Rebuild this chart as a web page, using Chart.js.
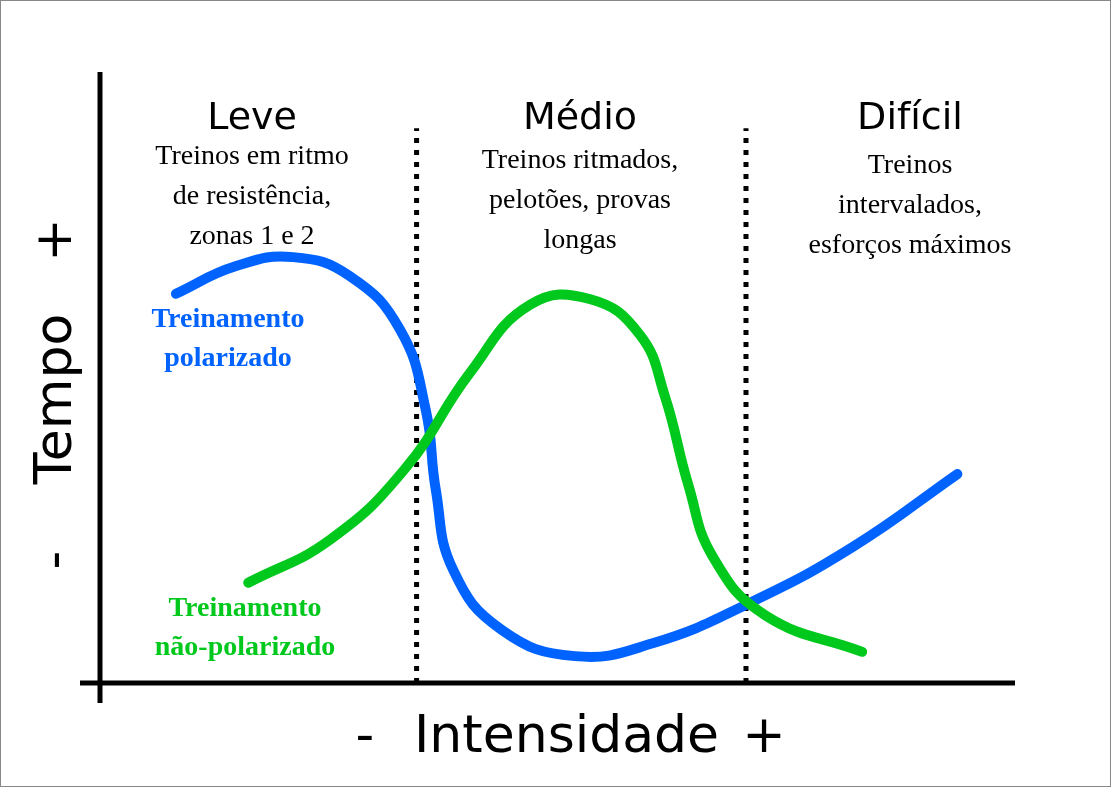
<!DOCTYPE html>
<html>
<head>
<meta charset="utf-8">
<script src="https://cdn.jsdelivr.net/npm/chart.js@4/dist/chart.umd.min.js"></script>
<style>
  html, body { margin: 0; padding: 0; background: #fff; }
  #wrap { position: relative; width: 1111px; height: 787px; box-sizing: border-box; border: 1px solid #888; }
  canvas { position: absolute; left: -1px; top: -1px; }
</style>
</head>
<body>
<div id="wrap"><canvas id="chart" width="1111" height="787"></canvas></div>
<script>
// Intensidade (x) e Tempo (y), escala 0-100 em ambos
const polarX = [8.3, 14.8, 21.1, 27.3, 32.8, 35.6, 36.7, 38.6, 43.9, 51.9, 60.4, 71.0, 82.3, 93.7];
const polarY = [63.7, 68.2, 69.7, 66.6, 57.8, 44.7, 31.6, 18.5, 8.7, 4.4, 6.5, 13.1, 22.3, 34.2];

const naoPolarX = [16.2, 25.1, 33.3, 40.4, 47.0, 53.6, 59.0, 61.7, 64.3, 67.0, 72.7, 83.3];
const naoPolarY = [16.4, 23.4, 35.0, 50.7, 61.9, 62.8, 57.0, 47.1, 32.4, 20.6, 11.1, 5.1];

// limites das zonas de intensidade
const zoneBounds = [34.6, 70.6];
const zoneTop = 90.8;

const zoneNames = ['Leve', 'Médio', 'Difícil'];
const zoneNotes = [
    ['Treinos em ritmo', 'de resistência,', 'zonas 1 e 2'],
    ['Treinos ritmados,', 'pelotões, provas', 'longas'],
    ['Treinos', 'intervalados,', 'esforços máximos']
];

const BLUE = '#0062ff';
const GREEN = '#00c81c';

function pts(xs, ys) {
    return xs.map((x, i) => ({ x: x, y: ys[i] }));
}

const boundSets = zoneBounds.map(b => ({
    data: [{ x: b, y: 0 }, { x: b, y: zoneTop }],
    borderColor: '#000',
    borderWidth: 5,
    borderDash: [5, 7],
    pointRadius: 0,
    tension: 0,
    showLine: true
}));

// texto e eixos desenhados por cima
const labelsPlugin = {
    id: 'labels',
    beforeDatasetsDraw(chart) {
        const c = chart.ctx;
        const xs = chart.scales.x, ys = chart.scales.y;
        const x0 = xs.getPixelForValue(0), y0 = ys.getPixelForValue(0);
        c.save();
        c.strokeStyle = '#000';
        c.lineWidth = 5;
        c.beginPath();
        c.moveTo(x0 - 20, y0);
        c.lineTo(xs.getPixelForValue(100), y0);
        c.moveTo(x0, ys.getPixelForValue(100));
        c.lineTo(x0, y0 + 20);
        c.stroke();
        c.restore();
    },
    afterDraw(chart) {
        const c = chart.ctx;
        c.save();
        c.fillStyle = '#000';
        c.textAlign = 'center';
        c.textBaseline = 'alphabetic';

        const headX = [252, 580, 910];
        const noteY = [164, 168, 173];
        zoneNames.forEach((name, i) => {
            c.font = '38px "DejaVu Sans"';
            c.fillText(name, headX[i], 129);
            c.font = '28px "Liberation Serif"';
            zoneNotes[i].forEach((line, j) => c.fillText(line, headX[i], noteY[i] + j * 40));
        });

        c.font = 'bold 28px "Liberation Serif"';
        c.fillStyle = BLUE;
        c.fillText('Treinamento', 228, 327);
        c.fillText('polarizado', 228, 366);
        c.fillStyle = GREEN;
        c.fillText('Treinamento', 245, 616);
        c.fillText('não-polarizado', 245, 655);

        c.fillStyle = '#000';
        c.font = '52px "DejaVu Sans"';
        c.textAlign = 'left';
        c.fillText('Intensidade', 414, 752);
        c.textAlign = 'center';
        c.fillText('-', 365, 752);
        c.fillText('+', 764, 752);

        c.translate(71, 399);
        c.rotate(-Math.PI / 2);
        c.fillText('Tempo', 0, 0);
        c.fillText('+', 159, 0);
        c.fillText('-', -161, 0);
        c.restore();
    }
};

new Chart(document.getElementById('chart'), {
    type: 'scatter',
    data: {
        datasets: [
            {
                data: pts(naoPolarX, naoPolarY),
                borderColor: GREEN,
                borderWidth: 10,
                borderCapStyle: 'round',
                borderJoinStyle: 'round',
                tension: 0.45,
                pointRadius: 0,
                showLine: true
            },
            {
                data: pts(polarX, polarY),
                borderColor: BLUE,
                borderWidth: 10,
                borderCapStyle: 'round',
                borderJoinStyle: 'round',
                tension: 0.45,
                pointRadius: 0,
                showLine: true
            },
            ...boundSets
        ]
    },
    options: {
        responsive: false,
        animation: false,
        layout: { padding: { left: 100, right: 96, top: 72, bottom: 104 } },
        plugins: { legend: { display: false }, tooltip: { enabled: false } },
        scales: {
            x: { type: 'linear', min: 0, max: 100, display: false },
            y: { type: 'linear', min: 0, max: 100, display: false }
        }
    },
    plugins: [labelsPlugin]
});
</script>
</body>
</html>
